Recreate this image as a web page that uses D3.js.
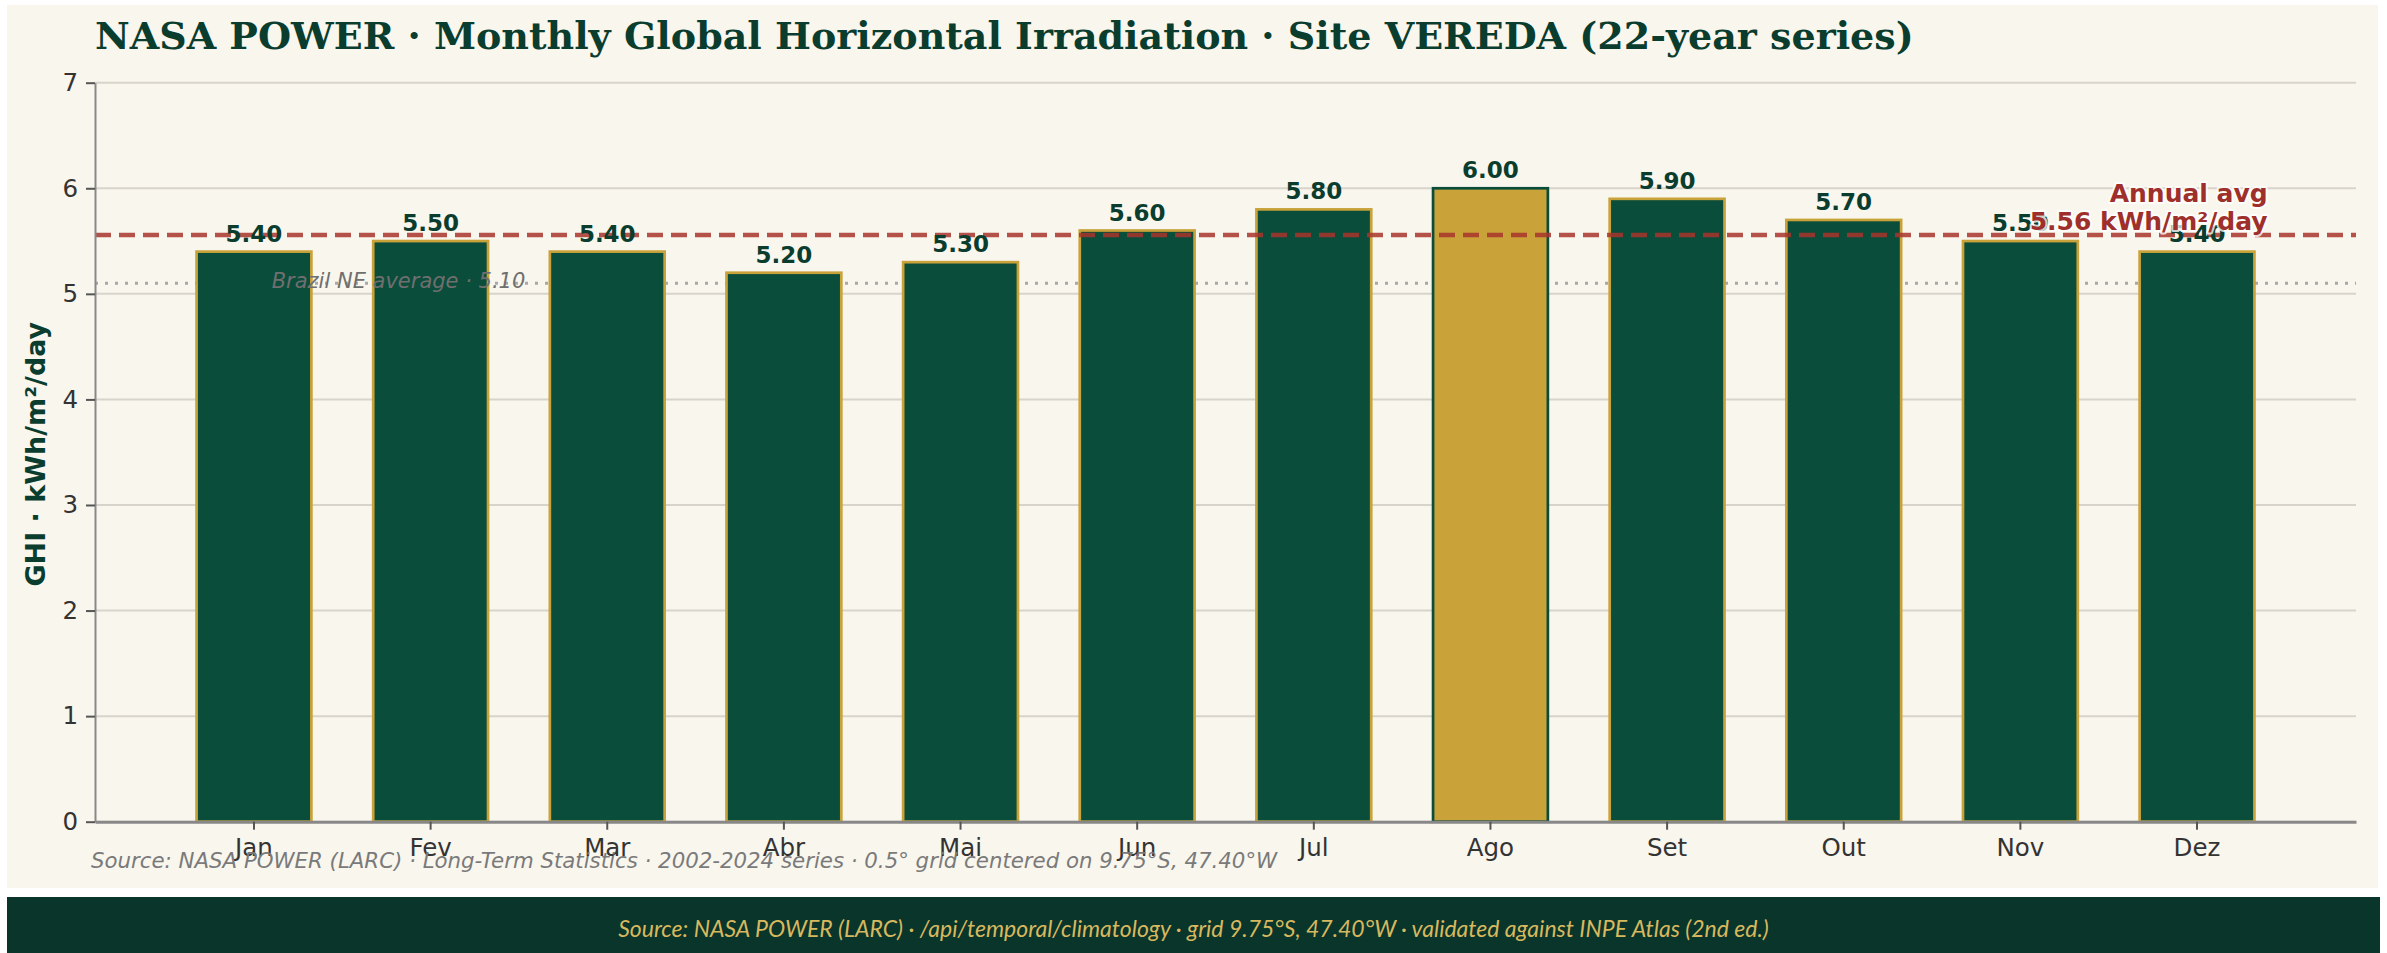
<!DOCTYPE html>
<html>
<head>
<meta charset="utf-8">
<script src="https://cdn.jsdelivr.net/npm/d3@7"></script>
<style>
  html, body { margin: 0; padding: 0; background: #ffffff; }
  svg { display: block; }
</style>
</head>
<body>
<svg id="chart" width="2387" height="953"></svg>
<script>
// ---- data ----
const months = ["Jan","Fev","Mar","Abr","Mai","Jun","Jul","Ago","Set","Out","Nov","Dez"];
const ghi = [5.40, 5.50, 5.40, 5.20, 5.30, 5.60, 5.80, 6.00, 5.90, 5.70, 5.50, 5.40];
const yTicks = [0, 1, 2, 3, 4, 5, 6, 7];
const highlightMonth = "Ago";
const brazilNE = 5.10;
const annualAvg = d3.mean(ghi);

const titleText = "NASA POWER · Monthly Global Horizontal Irradiation · Site VEREDA (22-year series)";
const yLabelText = "GHI · kWh/m²/day";
const sourceText = "Source: NASA POWER (LARC) · Long-Term Statistics · 2002-2024 series · 0.5° grid centered on 9.75°S, 47.40°W";
const footerText = "Source: NASA POWER (LARC) · /api/temporal/climatology · grid 9.75°S, 47.40°W · validated against INPE Atlas (2nd ed.)";

// ---- layout ----
const W = 2387, H = 953;
const plotL = 95, plotR = 2356, plotT = 82.7, plotB = 821.7;
const darkGreen = "#0b4d3b", gold = "#c9a23a", textGreen = "#0a3d2e";

const svg = d3.select("#chart");

// backgrounds
svg.append("rect").attr("x", 0).attr("y", 0).attr("width", W).attr("height", H).attr("fill", "#ffffff");
svg.append("rect").attr("x", 7).attr("y", 5).attr("width", 2371).attr("height", 883).attr("fill", "#f9f6ee");
svg.append("rect").attr("x", 7).attr("y", 897).attr("width", 2373).attr("height", 56).attr("fill", "#09352a");

const x = d3.scaleBand().domain(months).range([plotL, plotR]).paddingInner(0.35).paddingOuter(0.575);
const y = d3.scaleLinear().domain([0, 7]).range([plotB, plotT]);

// grid
svg.append("g").selectAll("line").data(yTicks).join("line")
  .attr("x1", plotL).attr("x2", plotR)
  .attr("y1", d => y(d)).attr("y2", d => y(d))
  .attr("stroke", "#d8d4cb").attr("stroke-width", 2);

// Brazil NE dotted line
svg.append("line")
  .attr("x1", plotL).attr("x2", plotR)
  .attr("y1", y(brazilNE)).attr("y2", y(brazilNE))
  .attr("stroke", "#a8a8a8").attr("stroke-width", 3)
  .attr("stroke-dasharray", "3,7");

// bars
svg.append("g").selectAll("rect").data(months).join("rect")
  .attr("x", d => x(d))
  .attr("width", x.bandwidth())
  .attr("y", (d, i) => y(ghi[i]))
  .attr("height", (d, i) => y(0) - y(ghi[i]))
  .attr("fill", d => d === highlightMonth ? gold : darkGreen)
  .attr("stroke", d => d === highlightMonth ? darkGreen : gold)
  .attr("stroke-width", 2.7);

// annual avg dashed line
svg.append("line")
  .attr("x1", plotL).attr("x2", plotR)
  .attr("y1", y(annualAvg)).attr("y2", y(annualAvg))
  .attr("stroke", "#a8352d").attr("stroke-opacity", 0.85).attr("stroke-width", 4.5)
  .attr("stroke-dasharray", "16,8");

// Brazil NE label
svg.append("text")
  .attr("x", x("Jan") + x.bandwidth() / 2 + 0.1 * x.step())
  .attr("y", y(brazilNE) + 5)
  .attr("font-family", "DejaVu Sans").attr("font-style", "italic")
  .attr("font-size", 21).attr("fill", "#6f6f6f")
  .text("Brazil NE average · " + brazilNE.toFixed(2));

// value labels
svg.append("g").selectAll("text").data(months).join("text")
  .attr("x", d => x(d) + x.bandwidth() / 2)
  .attr("y", (d, i) => y(ghi[i]) - 10)
  .attr("text-anchor", "middle")
  .attr("font-family", "DejaVu Sans").attr("font-weight", "bold")
  .attr("font-size", 23).attr("fill", textGreen)
  .text((d, i) => ghi[i].toFixed(2));

// annual avg label
const avgX = x("Dez") + x.bandwidth() / 2 + 0.4 * x.step();
const avgG = svg.append("text")
  .attr("text-anchor", "end")
  .attr("font-family", "DejaVu Sans").attr("font-weight", "bold")
  .attr("font-size", 25).attr("fill", "#9e2f2a")
  .attr("stroke", "#ffffff").attr("stroke-width", 4).attr("stroke-opacity", 0.8)
  .attr("paint-order", "stroke").attr("stroke-linejoin", "round");
avgG.append("tspan").attr("x", avgX).attr("y", y(annualAvg) - 33).text("Annual avg");
avgG.append("tspan").attr("x", avgX).attr("y", y(annualAvg) - 5).text(annualAvg.toFixed(2) + " kWh/m²/day");

// axes
const yAxis = svg.append("g").attr("transform", `translate(${plotL},0)`)
  .call(d3.axisLeft(y).tickValues(yTicks).tickFormat(d3.format("d")).tickSize(9).tickSizeOuter(0).tickPadding(8));
yAxis.select(".domain").attr("stroke", "#888888").attr("stroke-width", 2);
yAxis.selectAll(".tick line").attr("stroke", "#555555").attr("stroke-width", 2);
yAxis.selectAll(".tick text").attr("font-family", "DejaVu Sans").attr("font-size", 24.5).attr("fill", "#333333");

const xAxis = svg.append("g").attr("transform", `translate(0,${plotB})`)
  .call(d3.axisBottom(x).tickSize(8).tickSizeOuter(0).tickPadding(9));
xAxis.select(".domain").attr("stroke", "#888888").attr("stroke-width", 3);
xAxis.selectAll(".tick line").attr("stroke", "#555555").attr("stroke-width", 2);
xAxis.selectAll(".tick text").attr("font-family", "DejaVu Sans").attr("font-size", 24.5).attr("fill", "#333333");

// y label
svg.append("text")
  .attr("transform", `translate(45,${(plotT + plotB) / 2 + 2}) rotate(-90)`)
  .attr("text-anchor", "middle")
  .attr("font-family", "DejaVu Sans").attr("font-weight", "bold")
  .attr("font-size", 27).attr("fill", textGreen)
  .text(yLabelText);

// title
svg.append("text")
  .attr("x", 95).attr("y", 49)
  .attr("font-family", "DejaVu Serif").attr("font-weight", "bold")
  .attr("font-size", 38).attr("fill", textGreen)
  .text(titleText);

// in-chart source
svg.append("text")
  .attr("x", 91).attr("y", 868)
  .attr("font-family", "DejaVu Sans").attr("font-style", "italic")
  .attr("font-size", 21.3).attr("fill", "#7a7a7a")
  .text(sourceText);

// footer
svg.append("text")
  .attr("x", W / 2).attr("y", 937)
  .attr("text-anchor", "middle")
  .attr("font-family", "Lato").attr("font-style", "italic")
  .attr("font-size", 23).attr("fill", "#d8b85e")
  .text(footerText);
</script>
</body>
</html>
